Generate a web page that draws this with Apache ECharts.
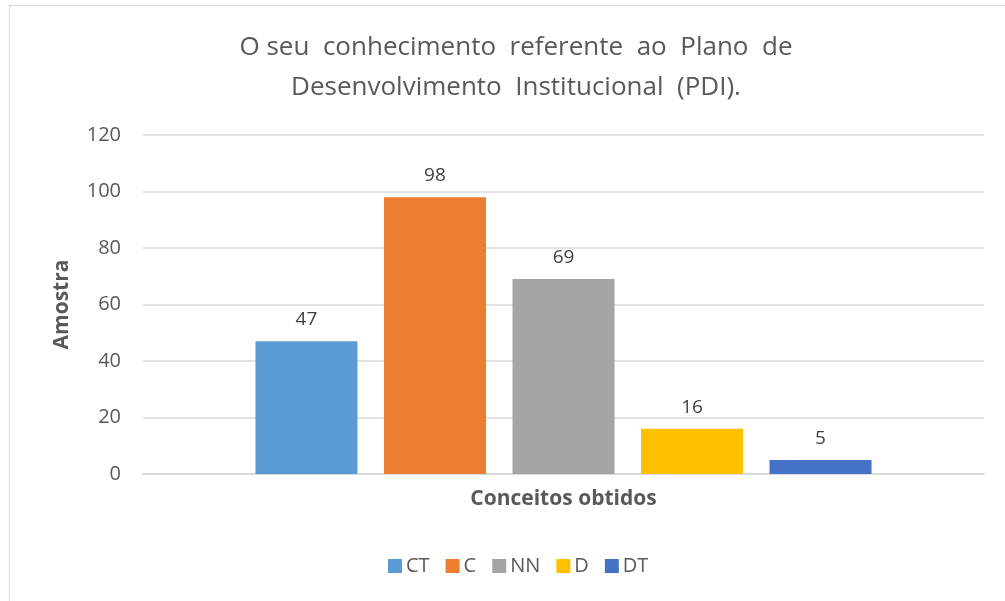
<!DOCTYPE html>
<html>
<head>
<meta charset="utf-8">
<script src="https://cdn.jsdelivr.net/npm/echarts@6/dist/echarts.min.js"></script>
<style>
html, body { margin: 0; padding: 0; background: #fff; }
#box { position: absolute; left: 9px; top: 5px; width: 1000px; height: 600px; border: 1.5px solid #d9d9d9; border-right: none; border-bottom: none; }
#chart { width: 1005px; height: 601px; }
</style>
</head>
<body>
<div id="box"></div>
<div id="chart"></div>
<script>
// dados do grafico
var seriesNames = ['CT', 'C', 'NN', 'D', 'DT'];
var seriesValues = [47, 98, 69, 16, 5];
var seriesColors = ['#5B9BD5', '#ED7D31', '#A5A5A5', '#FFC000', '#4472C4'];
var yTicks = [0, 20, 40, 60, 80, 100, 120];

var fonte = '"Open Sans", "Noto Sans", sans-serif';

var series = [];
for (var i = 0; i < seriesNames.length; i++) {
    series.push({
        name: seriesNames[i],
        type: 'bar',
        data: [seriesValues[i]],
        barWidth: 102,
        barGap: '26%',
        itemStyle: { color: seriesColors[i] },
        label: {
            show: true,
            position: 'top',
            distance: 12,
            color: '#404040',
            fontSize: 19,
            fontFamily: fonte
        }
    });
}

var myChart = echarts.init(document.getElementById('chart'));
var option = {
    animation: false,
    title: {
        text: 'O seu  conhecimento  referente  ao  Plano  de\nDesenvolvimento  Institucional  (PDI).',
        left: 511,
        top: 23,
        textAlign: 'center',
        textStyle: {
            color: '#595959',
            fontSize: 26,
            fontWeight: 'normal',
            fontFamily: fonte,
            lineHeight: 40,
            align: 'center'
        }
    },
    legend: {
        data: seriesNames,
        bottom: 20,
        left: 383,
        itemWidth: 14,
        itemHeight: 14,
        itemGap: 16,
        icon: 'rect',
        textStyle: { color: '#595959', fontSize: 20, fontFamily: fonte, padding: [0, 0, 0, -1] }
    },
    grid: { left: 143, right: 21, top: 135, bottom: 127 },
    xAxis: {
        type: 'category',
        data: [''],
        name: 'Conceitos obtidos',
        nameLocation: 'middle',
        nameGap: 15,
        nameTextStyle: { color: '#595959', fontSize: 21, fontWeight: 'bold', fontFamily: fonte },
        axisLine: { lineStyle: { color: '#d9d9d9', width: 2 } },
        axisTick: { show: false },
        axisLabel: { show: false }
    },
    yAxis: {
        type: 'value',
        min: yTicks[0],
        max: yTicks[yTicks.length - 1],
        interval: 20,
        name: 'Amostra',
        nameLocation: 'middle',
        nameGap: 70,
        nameTextStyle: { color: '#595959', fontSize: 21, fontWeight: 'bold', fontFamily: fonte },
        axisLabel: { color: '#595959', fontSize: 20, fontFamily: fonte, margin: 22 },
        splitLine: { lineStyle: { color: '#d9d9d9', width: 1.5 } },
        axisLine: { show: false },
        axisTick: { show: false }
    },
    series: series
};
myChart.setOption(option);
</script>
</body>
</html>
